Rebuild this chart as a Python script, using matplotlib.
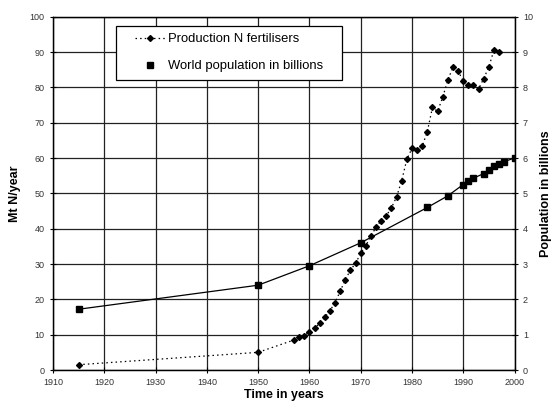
import matplotlib
matplotlib.use("Agg")
import matplotlib.pyplot as plt
from matplotlib.lines import Line2D
from matplotlib.patches import Rectangle

plt.rcParams['font.family'] = ['Liberation Sans', 'DejaVu Sans']

fert_years = [1915, 1950, 1957, 1958, 1959, 1960, 1961, 1962, 1963, 1964, 1965, 1966,
              1967, 1968, 1969, 1970, 1971, 1972, 1973, 1974, 1975, 1976, 1977, 1978,
              1979, 1980, 1981, 1982, 1983, 1984, 1985, 1986, 1987, 1988, 1989, 1990,
              1991, 1992, 1993, 1994, 1995, 1996, 1997]
fert_values = [1.5, 5.0, 8.5, 9.4, 9.7, 10.8, 11.8, 13.2, 14.9, 16.8, 19.0, 22.3,
               25.5, 28.3, 30.2, 33.0, 35.2, 37.9, 40.4, 42.3, 43.7, 45.9, 49.0, 53.6,
               59.6, 62.7, 62.3, 63.3, 67.5, 74.3, 73.2, 77.2, 82.1, 85.7, 84.7, 81.7,
               80.6, 80.6, 79.6, 82.5, 85.8, 90.6, 89.9]

pop_years = [1915, 1950, 1960, 1970, 1983, 1987, 1990, 1991, 1992, 1994, 1995, 1996,
             1997, 1998, 2000]
pop_values = [1.72, 2.4, 2.95, 3.6, 4.6, 4.93, 5.25, 5.34, 5.43, 5.56, 5.66, 5.76,
              5.83, 5.9, 6.0]

fig = plt.figure(figsize=(5.57, 4.08), dpi=100)
ax = fig.add_axes([53/557, 38/408, 461.5/557, 353.3/408])
ax2 = ax.twinx()

ax.set_xlim(1910, 2000)
ax.set_ylim(0, 100)
ax2.set_ylim(0, 10)
ax.set_xticks(range(1910, 2001, 10))
ax.set_yticks(range(0, 101, 10))
ax2.set_yticks(range(0, 11, 1))

ax.grid(True, color='#222222', linewidth=0.9)
ax.set_axisbelow(True)

dot = (0, (1.2, 2.5))
ax.plot(fert_years, fert_values, linestyle=dot, color='black',
        linewidth=0.9, marker='D', markersize=3.0, zorder=3)
ax2.plot(pop_years, pop_values, linestyle='-', color='black', linewidth=0.9,
         marker='s', markersize=3.8, zorder=3)

for a in (ax, ax2):
    a.tick_params(labelsize=6.5, direction='inout', length=5, width=0.8,
                  colors='black', labelcolor='#333333')
    for s in a.spines.values():
        s.set_linewidth(0.9)

ax.set_xlabel('Time in years', fontsize=9, fontweight='bold', labelpad=1)
ax.set_ylabel('Mt N/year', fontsize=9, fontweight='bold', labelpad=6)
ax2.set_ylabel('Population in billions', fontsize=9, fontweight='bold', labelpad=5)

h1 = Line2D([], [], linestyle=dot, color='black', linewidth=0.9,
            marker='D', markersize=3.0)
h2 = Line2D([], [], linestyle='none', color='black', marker='s', markersize=3.8)
leg = ax2.legend([h1, h2], ['Production N fertilisers', 'World population in billions'],
                 loc='upper left', fontsize=9.4,
                 frameon=True, fancybox=False, edgecolor='black', framealpha=1,
                 borderpad=0.55, labelspacing=1.15, handlelength=2.3, handletextpad=0.2,
                 borderaxespad=0)
fig.canvas.draw()
bb = leg.get_window_extent()
target_left = 116
target_w = 342 - 116
extra = target_w - bb.width
x0_axes = (target_left + extra / 2 - 53) / 461.5
leg.set_bbox_to_anchor((x0_axes, 0.974), transform=ax2.transAxes)
fig.canvas.draw()
bb = leg.get_window_extent()
leg.get_frame().set_visible(False)
rect = Rectangle((target_left, bb.y0), target_w, bb.height, transform=None,
                 facecolor='white', edgecolor='black', linewidth=0.9, zorder=4,
                 clip_on=False)
ax2.add_artist(rect)
leg.set_zorder(5)

fig.savefig('out.png', dpi=100)
